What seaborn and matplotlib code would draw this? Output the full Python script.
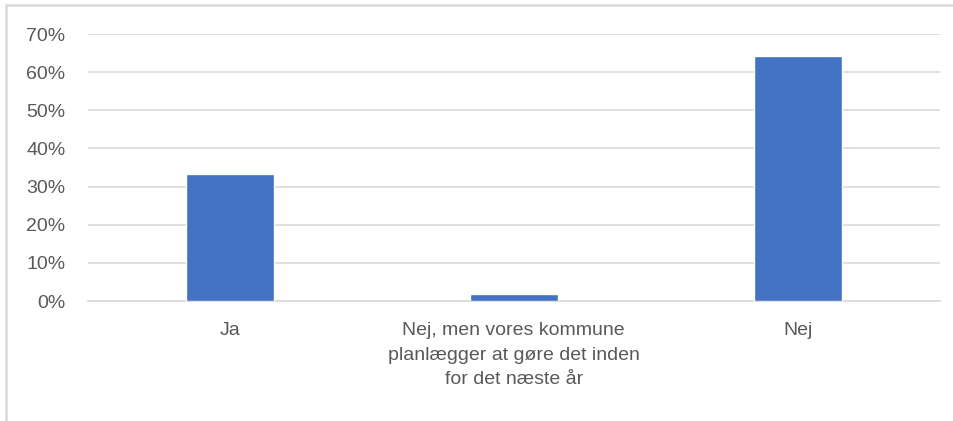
import matplotlib
matplotlib.use("Agg")
import matplotlib.pyplot as plt
import seaborn as sns
import pandas as pd
from matplotlib.ticker import PercentFormatter
from matplotlib.lines import Line2D

# Data
categories = ["Ja",
              "Nej, men vores kommune\nplanlægger at gøre det inden\nfor det næste år",
              "Nej"]
shares = [0.334, 0.018, 0.642]
y_ticks = [0, 0.1, 0.2, 0.3, 0.4, 0.5, 0.6, 0.7]

df = pd.DataFrame({"svar": categories, "andel": shares})

sns.set_theme(style="white")
plt.rcParams['font.family'] = ['Liberation Sans', 'DejaVu Sans']
text_color = "#595959"
grid_color = "#d9d9d9"

fig = plt.figure(figsize=(9.54, 4.21), dpi=100)
ax = fig.add_axes([0.092, 0.285, 0.893, 0.634])

sns.barplot(data=df, x="svar", y="andel", color="#4472C4", width=0.31,
            saturation=1, ax=ax, zorder=3)

ax.set_ylim(0, 0.7)
ax.set_yticks(y_ticks)
ax.yaxis.set_major_formatter(PercentFormatter(1.0, decimals=0))
ax.grid(axis="y", color=grid_color, linewidth=1.2, zorder=0)
ax.set_axisbelow(True)
for side in ["top", "right", "left"]:
    ax.spines[side].set_visible(False)
ax.spines["bottom"].set_color(grid_color)
ax.spines["bottom"].set_linewidth(1.2)
ax.tick_params(axis="both", length=0, colors=text_color, labelsize=14)
ax.tick_params(axis="y", pad=16)
ax.tick_params(axis="x", pad=15)
for lbl in ax.get_xticklabels():
    lbl.set_linespacing(1.6)
ax.set_xlabel("")
ax.set_ylabel("")

# light border on the top and left of the chart area
fig.add_artist(Line2D([0.006, 1.0], [0.988, 0.988], transform=fig.transFigure,
                      color=grid_color, linewidth=1.8))
fig.add_artist(Line2D([0.006, 0.006], [0.0, 0.988], transform=fig.transFigure,
                      color=grid_color, linewidth=1.8))

fig.savefig("out.png", dpi=100)
